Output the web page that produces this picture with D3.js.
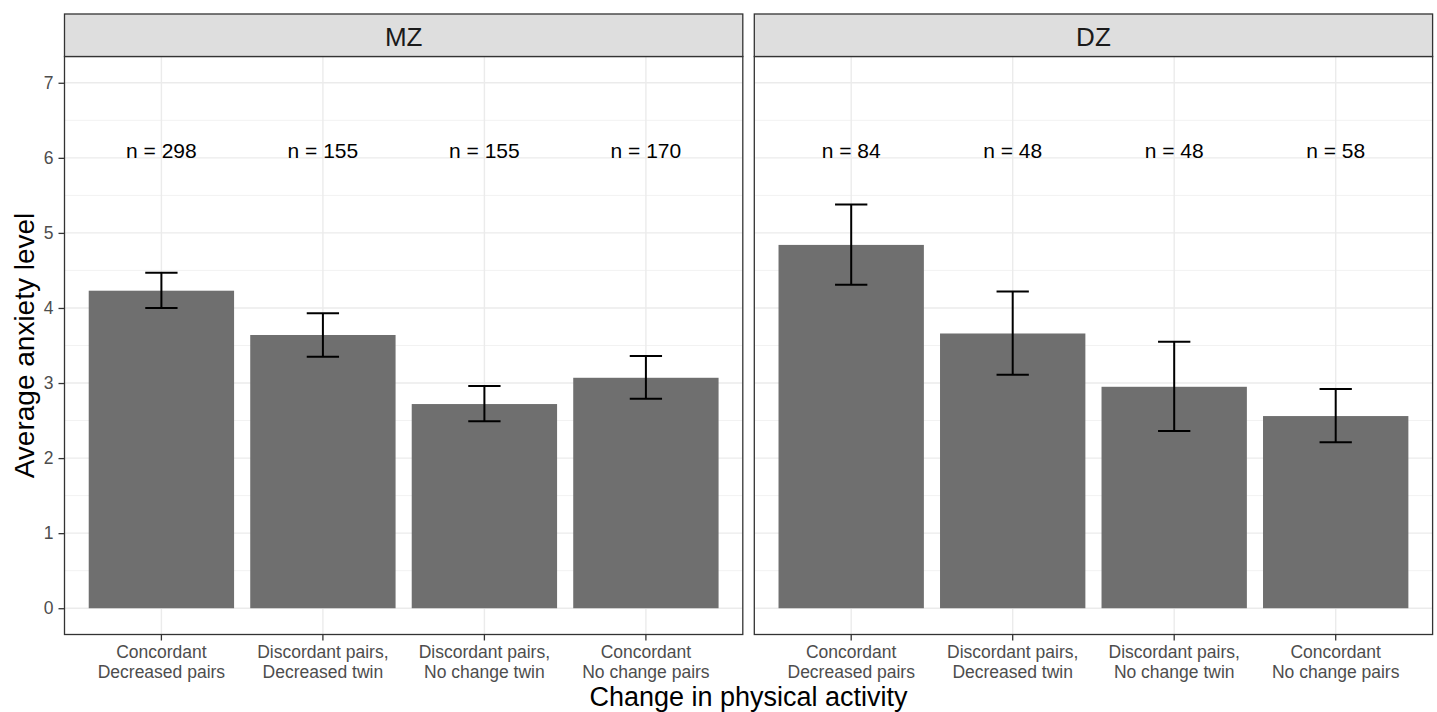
<!DOCTYPE html>
<html>
<head>
<meta charset="utf-8">
<script src="https://cdn.jsdelivr.net/npm/d3@7"></script>
<style>
  body { margin: 0; background: #fff; }
  svg text { font-family: "Liberation Sans", Arial, Helvetica, sans-serif; }
</style>
</head>
<body>
<div id="chart"></div>
<script>
// Anxiety level by change in physical activity, MZ vs DZ twins

const categories = [
  'Concordant\nDecreased pairs',
  'Discordant pairs,\nDecreased twin',
  'Discordant pairs,\nNo change twin',
  'Concordant\nNo change pairs',
];
const zygosity = ['MZ', 'DZ'];

const mzMean = [4.23, 3.64, 2.72, 3.07];
const mzLower = [4.00, 3.35, 2.49, 2.79];
const mzUpper = [4.47, 3.93, 2.96, 3.36];
const mzN = [298, 155, 155, 170];

const dzMean = [4.84, 3.66, 2.95, 2.56];
const dzLower = [4.31, 3.11, 2.36, 2.21];
const dzUpper = [5.38, 4.22, 3.55, 2.92];
const dzN = [84, 48, 48, 58];

const yTicks = [0, 1, 2, 3, 4, 5, 6, 7];
const nLabelY = 6;

function init () {

  ////////////////////////////////////////////////////////////////////////////////
  // Setup
  const width = 1437;
  const height = 712;
  const panelTop = 56.5;
  const panelBottom = 634.5;
  const stripTop = 14;
  const panelLefts = [64.5, 754.3];
  const panelWidth = 678.3;

  const rows = {
    MZ: categories.map((c, i) => ({ cat: c, mean: mzMean[i], lo: mzLower[i], hi: mzUpper[i], n: mzN[i] })),
    DZ: categories.map((c, i) => ({ cat: c, mean: dzMean[i], lo: dzLower[i], hi: dzUpper[i], n: dzN[i] })),
  };

  const y = d3.scaleLinear()
    .domain([-0.35, 7.35])
    .range([panelBottom, panelTop]);

  const x = d3.scaleBand()
    .domain(categories)
    .range([0, panelWidth])
    .paddingInner(0.1)
    .paddingOuter(0.15);

  const svg = d3.select('#chart').append('svg')
    .attr('width', width)
    .attr('height', height);

  ////////////////////////////////////////////////////////////////////////////////
  // Panels
  zygosity.forEach((z, pi) => {
    const g = svg.append('g')
      .attr('transform', `translate(${panelLefts[pi]},0)`);

    // minor grid
    g.append('g').selectAll('line')
      .data(d3.range(-0.5, 7.5, 1).filter(v => y(v) > panelTop && y(v) < panelBottom))
      .enter().append('line')
      .attr('x1', 0).attr('x2', panelWidth)
      .attr('y1', d => y(d)).attr('y2', d => y(d))
      .attr('stroke', '#F2F2F2').attr('stroke-width', 1);

    // major grid
    g.append('g').selectAll('line')
      .data(yTicks)
      .enter().append('line')
      .attr('x1', 0).attr('x2', panelWidth)
      .attr('y1', d => y(d)).attr('y2', d => y(d))
      .attr('stroke', '#EBEBEB').attr('stroke-width', 1.4);

    g.append('g').selectAll('line')
      .data(categories)
      .enter().append('line')
      .attr('x1', d => x(d) + x.bandwidth() / 2).attr('x2', d => x(d) + x.bandwidth() / 2)
      .attr('y1', panelTop).attr('y2', panelBottom)
      .attr('stroke', '#EBEBEB').attr('stroke-width', 1.4);

    // bars
    g.append('g').selectAll('rect')
      .data(rows[z])
      .enter().append('rect')
      .attr('x', d => x(d.cat))
      .attr('width', x.bandwidth())
      .attr('y', d => y(d.mean))
      .attr('height', d => y(0) - y(d.mean))
      .attr('fill', '#6F6F6F');

    // error bars
    const capHalf = x.step() * 0.1;
    const err = g.append('g').selectAll('g')
      .data(rows[z])
      .enter().append('g')
      .attr('transform', d => `translate(${x(d.cat) + x.bandwidth() / 2},0)`)
      .attr('stroke', '#000').attr('stroke-width', 2);
    err.append('line')
      .attr('x1', 0).attr('x2', 0)
      .attr('y1', d => y(d.lo)).attr('y2', d => y(d.hi));
    err.append('line')
      .attr('x1', -capHalf).attr('x2', capHalf)
      .attr('y1', d => y(d.lo)).attr('y2', d => y(d.lo));
    err.append('line')
      .attr('x1', -capHalf).attr('x2', capHalf)
      .attr('y1', d => y(d.hi)).attr('y2', d => y(d.hi));

    // n labels
    g.append('g').selectAll('text')
      .data(rows[z])
      .enter().append('text')
      .attr('x', d => x(d.cat) + x.bandwidth() / 2)
      .attr('y', y(nLabelY))
      .attr('text-anchor', 'middle')
      .attr('font-size', 21)
      .attr('fill', '#000')
      .text(d => `n = ${d.n}`);

    // border
    g.append('rect')
      .attr('x', 0).attr('y', panelTop)
      .attr('width', panelWidth).attr('height', panelBottom - panelTop)
      .attr('fill', 'none').attr('stroke', '#333').attr('stroke-width', 1.3);

    // strip
    g.append('rect')
      .attr('x', 0).attr('y', stripTop)
      .attr('width', panelWidth).attr('height', panelTop - stripTop)
      .attr('fill', '#DEDEDE').attr('stroke', '#333').attr('stroke-width', 1.3);
    g.append('text')
      .attr('x', panelWidth / 2)
      .attr('y', 45.5)
      .attr('text-anchor', 'middle')
      .attr('font-size', 26)
      .attr('fill', '#1A1A1A')
      .text(z);

    // x axis
    const xAxis = g.append('g')
      .attr('transform', `translate(0,${panelBottom})`)
      .call(d3.axisBottom(x).tickSize(6).tickFormat(''));
    xAxis.select('.domain').remove();
    xAxis.selectAll('.tick line').attr('stroke', '#333').attr('stroke-width', 1.3);

    const lab = g.append('g').selectAll('text')
      .data(categories)
      .enter().append('text')
      .attr('x', d => x(d) + x.bandwidth() / 2)
      .attr('text-anchor', 'middle')
      .attr('font-size', 17.5)
      .attr('fill', '#4D4D4D');
    lab.append('tspan')
      .attr('x', d => x(d) + x.bandwidth() / 2)
      .attr('y', panelBottom + 23.5)
      .text(d => d.split('\n')[0]);
    lab.append('tspan')
      .attr('x', d => x(d) + x.bandwidth() / 2)
      .attr('y', panelBottom + 43.5)
      .text(d => d.split('\n')[1]);
  });

  ////////////////////////////////////////////////////////////////////////////////
  // Y axis (left panel only)
  const yAxis = svg.append('g')
    .attr('transform', `translate(${panelLefts[0]},0)`)
    .call(d3.axisLeft(y).tickValues(yTicks).tickSize(6).tickPadding(5));
  yAxis.select('.domain').remove();
  yAxis.selectAll('.tick line').attr('stroke', '#333').attr('stroke-width', 1.3);
  yAxis.selectAll('.tick text')
    .attr('font-size', 17.5)
    .attr('fill', '#4D4D4D');

  ////////////////////////////////////////////////////////////////////////////////
  // Axis titles
  svg.append('text')
    .attr('x', (panelLefts[0] + panelLefts[1] + panelWidth) / 2)
    .attr('y', 706)
    .attr('text-anchor', 'middle')
    .attr('font-size', 27)
    .attr('fill', '#000')
    .text('Change in physical activity');

  svg.append('text')
    .attr('transform', `translate(34,${(panelTop + panelBottom) / 2}) rotate(-90)`)
    .attr('text-anchor', 'middle')
    .attr('font-size', 28)
    .attr('fill', '#000')
    .text('Average anxiety level');
}
init();
</script>
</body>
</html>
